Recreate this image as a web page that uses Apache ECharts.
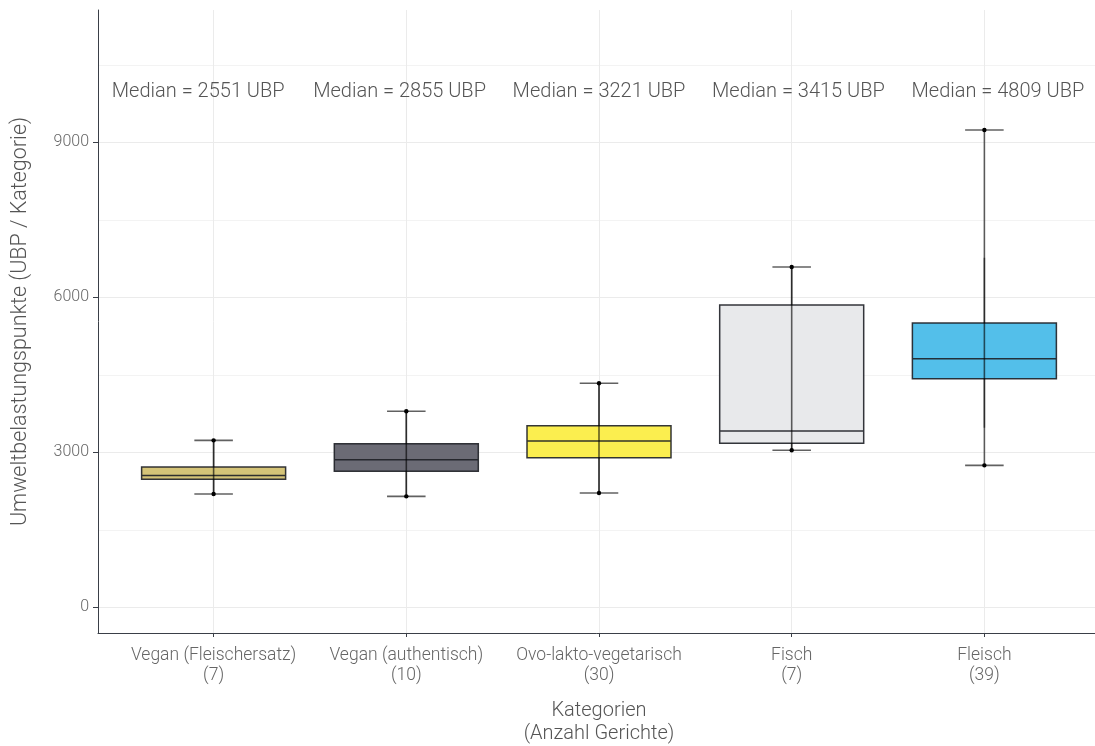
<!DOCTYPE html>
<html><head><meta charset="utf-8">
<script src="https://cdn.jsdelivr.net/npm/echarts@6/dist/echarts.min.js"></script>
<style>html,body{margin:0;padding:0;background:#fff;overflow:hidden}#c{width:1095px;height:746px}</style>
</head><body><div id="c"></div>
<script>
const categories = ['Vegan (Fleischersatz)', 'Vegan (authentisch)', 'Ovo-lakto-vegetarisch', 'Fisch', 'Fleisch'];
const counts = [7, 10, 30, 7, 39];
const q1 = [2477, 2632, 2896, 3174, 4425];
const medians = [2551, 2855, 3221, 3415, 4809];
const q3 = [2716, 3166, 3515, 5851, 5503];
const whiskerLow = [2193, 2148, 2212, 3039, 3476];
const whiskerHigh = [3232, 3794, 4336, 6587, 6766];
const minVals = [2193, 2148, 2212, 3039, 2748];
const maxVals = [3232, 3794, 4336, 6587, 9238];
const boxColors = ['#d5c478', '#6b6b75', '#fbee4f', '#e8e9eb', '#53bfea'];
const yTicks = [0, 3000, 6000, 9000];
const yMinorGrid = [1500, 4500, 7500, 10500];
const xPositions = [1, 2, 3, 4, 5];
const labelXs = [0.92, 1.965, 3.0, 4.035, 5.07];
const labelY = 10000;

const FONT = 'Roboto';
const chart = echarts.init(document.getElementById('c'));

const option = {
  animation: false,
  textStyle: { fontFamily: FONT },
  grid: { left: 98, top: 10, width: 1002, height: 623, containLabel: false, outerBoundsMode: 'none' },
  xAxis: {
    type: 'value', min: 0.4, max: 5.6,
    name: 'Kategorien\n(Anzahl Gerichte)', nameLocation: 'middle', nameGap: 66,
    nameTextStyle: { fontSize: 20, color: '#555', fontWeight: 300, lineHeight: 23, fontFamily: FONT },
    axisLine: { show: true, onZero: false, lineStyle: { color: '#3a3f47', width: 1 } },
    axisTick: { show: true, length: 4, customValues: xPositions, lineStyle: { color: '#3a3f47' } },
    axisLabel: {
      customValues: xPositions, color: '#666', fontSize: 17.5, fontWeight: 300, lineHeight: 20, margin: 13,
      formatter: v => categories[Math.round(v) - 1] + '\n(' + counts[Math.round(v) - 1] + ')'
    },
    splitLine: { show: true, lineStyle: { color: '#ebebeb', width: 1 } }
  },
  yAxis: [{
    type: 'value', min: -497, max: 11561,
    name: 'Umweltbelastungspunkte (UBP / Kategorie)', nameLocation: 'middle', nameGap: 66,
    nameTextStyle: { fontSize: 21.5, color: '#555', fontWeight: 300, fontFamily: FONT },
    axisLine: { show: true, onZero: false, lineStyle: { color: '#3a3f47', width: 1 } },
    axisTick: { show: true, length: 5, customValues: yTicks, lineStyle: { color: '#3a3f47' } },
    axisLabel: { customValues: yTicks, color: '#666', fontSize: 16, fontWeight: 300, margin: 9,
      formatter: v => String(v) },
    splitLine: { show: true, lineStyle: { color: '#ebebeb', width: 1 } }
  }, {
    type: 'value', min: -497, max: 11561, position: 'left',
    axisLine: { show: false }, axisTick: { show: false, customValues: yMinorGrid },
    axisLabel: { show: false, customValues: yMinorGrid },
    splitLine: { show: true, lineStyle: { color: '#f3f3f3', width: 1 } }
  }],
  series: [
    {
      type: 'boxplot', z: 2,
      boxWidth: [144, 144],
      data: xPositions.map((x, i) => ({
        value: [x, q1[i], q1[i], medians[i], q3[i], q3[i]],
        itemStyle: { color: boxColors[i], borderColor: 'rgba(30,32,38,0.9)', borderWidth: 1.5 }
      }))
    },
    {
      type: 'custom', z: 3,
      data: xPositions.map((x, i) => [x, whiskerLow[i], q1[i], q3[i], whiskerHigh[i]]),
      renderItem: (params, api) => {
        const x = api.value(0);
        const a = api.coord([x, api.value(1)]), b = api.coord([x, api.value(2)]);
        const c = api.coord([x, api.value(3)]), d = api.coord([x, api.value(4)]);
        const st = { stroke: 'rgba(0,0,0,0.5)', lineWidth: 1.6 };
        return { type: 'group', children: [
          { type: 'line', shape: { x1: a[0], y1: a[1], x2: b[0], y2: b[1] }, style: st },
          { type: 'line', shape: { x1: c[0], y1: c[1], x2: d[0], y2: d[1] }, style: st }
        ] };
      }
    },
    {
      type: 'custom', z: 4,
      data: xPositions.map((x, i) => [x, minVals[i], maxVals[i]]),
      renderItem: (params, api) => {
        const x = api.value(0);
        const lo = api.coord([x, api.value(1)]), hi = api.coord([x, api.value(2)]);
        const hw = api.size([0.2, 0])[0] / 2;
        const st = { stroke: 'rgba(0,0,0,0.62)', lineWidth: 1.6 };
        return { type: 'group', children: [
          { type: 'line', shape: { x1: lo[0], y1: lo[1], x2: hi[0], y2: hi[1] }, style: st },
          { type: 'line', shape: { x1: lo[0] - hw, y1: lo[1], x2: lo[0] + hw, y2: lo[1] }, style: st },
          { type: 'line', shape: { x1: hi[0] - hw, y1: hi[1], x2: hi[0] + hw, y2: hi[1] }, style: st },
          { type: 'circle', shape: { cx: lo[0], cy: lo[1], r: 2.2 }, style: { fill: '#000' } },
          { type: 'circle', shape: { cx: hi[0], cy: hi[1], r: 2.2 }, style: { fill: '#000' } }
        ] };
      }
    },
    {
      type: 'custom', z: 5,
      data: labelXs.map((x, i) => [x, labelY, medians[i]]),
      renderItem: (params, api) => {
        const p = api.coord([api.value(0), api.value(1)]);
        return { type: 'text', x: p[0], y: p[1] + 1, style: {
          text: 'Median = ' + api.value(2) + ' UBP', align: 'center', verticalAlign: 'middle',
          fontSize: 20, fontWeight: 300, fontFamily: FONT, fill: '#555'
        } };
      }
    }
  ]
};
chart.setOption(option);
</script>
</body></html>
